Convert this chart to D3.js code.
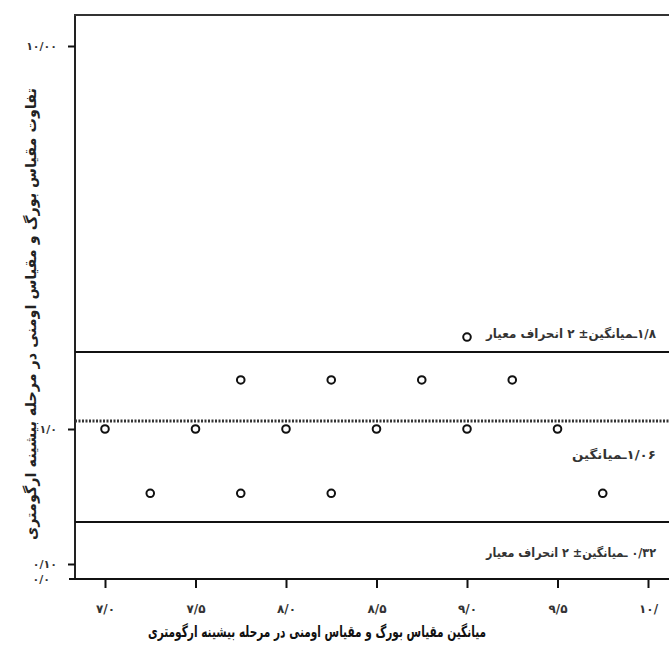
<!DOCTYPE html>
<html>
<head>
<meta charset="utf-8">
<script src="https://cdn.jsdelivr.net/npm/d3@7"></script>
<style>
  html, body { margin: 0; padding: 0; background: #ffffff; }
  svg { display: block; }
  text { font-family: "DejaVu Sans", "Noto Sans", sans-serif; }
</style>
</head>
<body>
<svg id="chart" width="669" height="653"></svg>
<script>
// ---- data ----
const meanX = [7.0, 7.25, 7.5, 7.75, 7.75, 8.0, 8.25, 8.25, 8.5, 8.75, 9.0, 9.0, 9.25, 9.5, 9.75];
const diffY = [1.0, 0.53, 1.0, 1.5, 0.53, 1.0, 1.5, 0.53, 1.0, 1.5, 1.0, 2.2, 1.5, 1.0, 0.53];
const xTicks = [7.0, 7.5, 8.0, 8.5, 9.0, 9.5, 10.0];
const xTickLabels = ["۷/۰", "۷/۵", "۸/۰", "۸/۵", "۹/۰", "۹/۵", "۱۰/"];
const yTicks = [0, 0.1, 1, 10];
const yTickLabels = ["۰/۰", "۰/۱۰", "۱/۰", "۱۰/۰۰"];
const meanDiff = 1.06;
const upperLimit = 1.8;
const lowerLimit = 0.32;
const limitLabels = ["\u200F۱/۸ـمیانگین± ۲ انحراف معیار", "\u200F۱/۰۶ـمیانگین", "\u200F۰/۳۲ ـمیانگین± ۲ انحراف معیار"];
const xTitle = "میانگین مقیاس بورگ و مقیاس اومنی در مرحله بیشینه ارگومتری";
const yTitle = "تفاوت مقیاس بورگ و مقیاس اومنی در مرحله بیشینه ارگومتری";

// ---- layout ----
const W = 669, H = 653;
const mLeft = 75, mTop = 15, mBottom = 579;
const svg = d3.select("#chart");

const x = d3.scaleLinear().domain([7, 10]).range([105, 648]);
// the reference's vertical axis is non-uniform; follow it piecewise
const y = d3.scaleLinear()
  .domain([0, 0.1, lowerLimit, 1, meanDiff, upperLimit, 10])
  .range([mBottom, 564, 522, 429, 421, 352, 46]);

// frame: left axis line, top line, bottom axis line
svg.append("line").attr("x1", mLeft).attr("x2", mLeft).attr("y1", mTop).attr("y2", mBottom)
  .attr("stroke", "#222").attr("stroke-width", 2);
svg.append("line").attr("x1", mLeft - 1).attr("x2", W).attr("y1", mTop).attr("y2", mTop)
  .attr("stroke", "#333").attr("stroke-width", 2);
svg.append("line").attr("x1", mLeft - 6).attr("x2", W).attr("y1", mBottom).attr("y2", mBottom)
  .attr("stroke", "#111").attr("stroke-width", 2);

// axes
const xAxis = d3.axisBottom(x).tickValues(xTicks)
  .tickFormat((d, i) => xTickLabels[i]).tickSize(9).tickPadding(16).tickSizeOuter(0);
const gx = svg.append("g").attr("transform", `translate(0,${mBottom})`).call(xAxis);
gx.select(".domain").remove();
gx.selectAll(".tick line").attr("stroke", "#111").attr("stroke-width", 2);
gx.selectAll(".tick text").attr("font-size", 12).attr("font-weight", "bold").attr("fill", "#333");

const yAxis = d3.axisLeft(y).tickValues(yTicks)
  .tickFormat((d, i) => yTickLabels[i]).tickSize(7).tickPadding(11).tickSizeOuter(0);
const gy = svg.append("g").attr("transform", `translate(${mLeft},0)`).call(yAxis);
gy.select(".domain").remove();
gy.selectAll(".tick line").attr("stroke", "#111").attr("stroke-width", 2);
gy.selectAll(".tick text").attr("font-size", 11).attr("font-weight", "bold").attr("fill", "#333");
gy.selectAll(".tick").filter(d => d === 0).select("line").remove();
gy.selectAll(".tick").filter(d => d === 0).select("text").attr("x", -25);

// reference lines
svg.append("line").attr("x1", mLeft).attr("x2", W).attr("y1", y(upperLimit)).attr("y2", y(upperLimit))
  .attr("stroke", "#111").attr("stroke-width", 2);
svg.append("line").attr("x1", mLeft).attr("x2", W).attr("y1", y(lowerLimit)).attr("y2", y(lowerLimit))
  .attr("stroke", "#111").attr("stroke-width", 2);
svg.append("line").attr("x1", mLeft).attr("x2", W).attr("y1", y(meanDiff)).attr("y2", y(meanDiff))
  .attr("stroke", "#333").attr("stroke-width", 3).attr("stroke-dasharray", "2,1.5");

// line labels
const labelY = [y(upperLimit) - 14, y(meanDiff) + 38, y(lowerLimit) + 35];
const labelLen = [170, 84, 170];
svg.selectAll("text.lim").data(limitLabels).join("text")
  .attr("class", "lim")
  .attr("x", 656).attr("y", (d, i) => labelY[i])
  .attr("text-anchor", "end")
  .attr("font-size", 12.5).attr("font-weight", "bold").attr("fill", "#333")
  .attr("textLength", (d, i) => labelLen[i]).attr("lengthAdjust", "spacingAndGlyphs")
  .text(d => d);

// points
svg.selectAll("circle.pt").data(meanX.map((v, i) => [v, diffY[i]])).join("circle")
  .attr("class", "pt")
  .attr("cx", d => x(d[0])).attr("cy", d => y(d[1])).attr("r", 3.8)
  .attr("fill", "#fff").attr("stroke", "#111").attr("stroke-width", 2);

// titles
svg.append("text").attr("x", 317).attr("y", 637).attr("text-anchor", "middle")
  .attr("font-size", 15.5).attr("font-weight", "bold").attr("fill", "#111")
  .attr("textLength", 338).attr("lengthAdjust", "spacingAndGlyphs")
  .text(xTitle);
svg.append("text").attr("transform", "translate(36,314) rotate(-90)").attr("text-anchor", "middle")
  .attr("font-size", 15).attr("font-weight", "bold").attr("fill", "#222")
  .attr("textLength", 452).attr("lengthAdjust", "spacingAndGlyphs")
  .text(yTitle);
</script>
</body>
</html>
